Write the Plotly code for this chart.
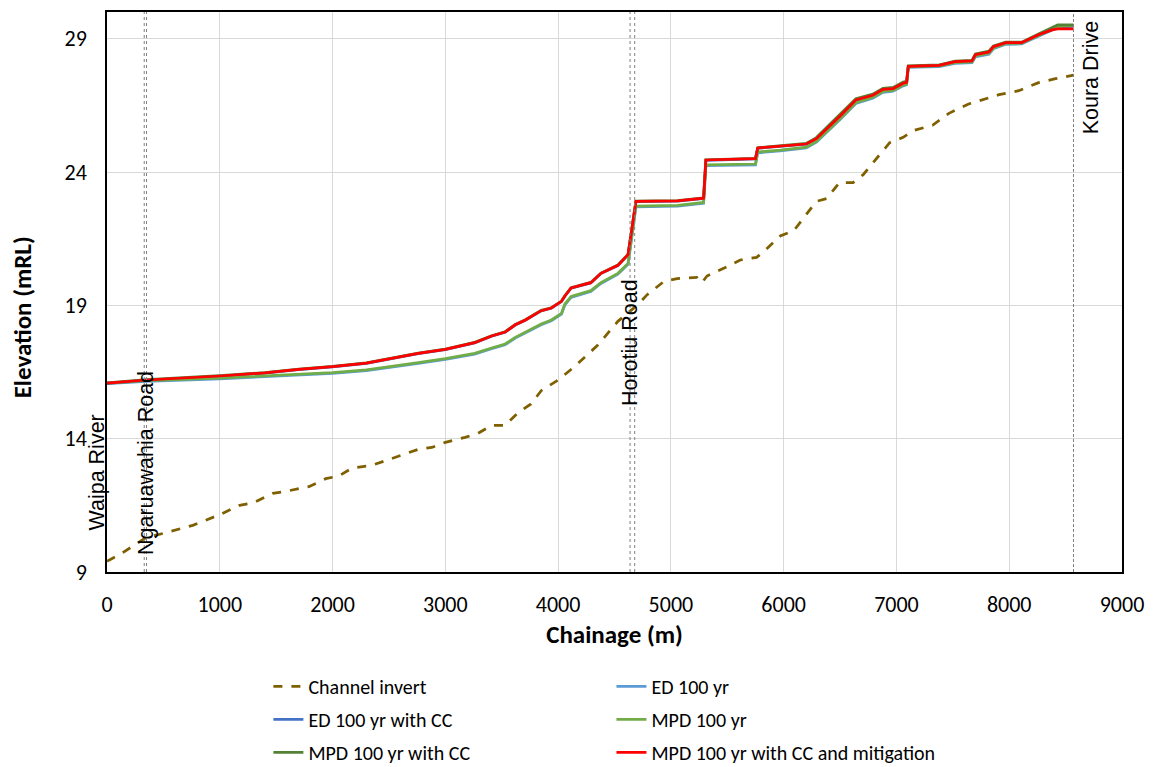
import plotly.graph_objects as go

# ---------------- data ----------------
invert_x = [0, 130, 350, 500, 760, 1000, 1175, 1300, 1470, 1555, 1790, 1940, 2055, 2175, 2350,
            2590, 2760, 2880, 3000, 3175, 3290, 3410, 3530, 3645, 3760, 3850, 4000, 4145, 4350,
            4530, 4700, 4790, 4940, 5055, 5230, 5275, 5320, 5525, 5615, 5760, 5820, 5970, 6090,
            6290, 6380, 6495, 6615, 6705, 6940, 7060, 7145, 7320, 7465, 7640, 7910, 8085, 8260,
            8410, 8570]
invert_y = [9.4, 9.7, 10.3, 10.45, 10.75, 11.15, 11.5, 11.6, 11.95, 12.0, 12.2, 12.5, 12.6, 12.9, 13.0,
            13.35, 13.6, 13.67, 13.86, 14.05, 14.2, 14.5, 14.5, 14.97, 15.3, 15.8, 16.2, 16.7, 17.5,
            18.4, 19.0, 19.4, 19.9, 20.0, 20.05, 19.85, 20.1, 20.5, 20.7, 20.8, 21.0, 21.6, 21.8,
            22.9, 23.0, 23.6, 23.6, 23.9, 25.1, 25.3, 25.55, 25.75, 26.2, 26.55, 26.9, 27.05, 27.35,
            27.5, 27.63]

chainage = [0, 350, 1000, 1400, 1700, 2000, 2300, 2520, 2760, 3000, 3260, 3410, 3530, 3620, 3710,
            3850, 3940, 4030, 4060, 4115, 4290, 4380, 4530, 4620, 4690, 5060, 5290, 5310, 5750, 5770,
            5970, 6200, 6290, 6440, 6500, 6640, 6790, 6880, 6970, 7060, 7090, 7105, 7380, 7520,
            7670, 7700, 7820, 7860, 7970, 8110, 8260, 8380, 8430, 8570]

ed_100 = [16.06, 16.15, 16.24, 16.32, 16.39, 16.45, 16.55, 16.67, 16.82, 16.97, 17.17, 17.37, 17.52,
          17.77, 17.97, 18.27, 18.42, 18.67, 19.02, 19.3, 19.52, 19.82, 20.17, 20.54, 22.69, 22.72,
          22.83, 24.24, 24.27, 24.72, 24.79, 24.9, 25.12, 25.72, 25.97, 26.57, 26.77, 26.99, 27.03,
          27.23, 27.27, 27.92, 27.95, 28.07, 28.1, 28.32, 28.42, 28.62, 28.79, 28.8, 29.1, 29.32,
          29.42, 29.47]

ed_100_cc = [16.07, 16.19, 16.34, 16.46, 16.59, 16.69, 16.82, 16.99, 17.19, 17.34, 17.59, 17.84, 17.99,
             18.26, 18.44, 18.79, 18.89, 19.14, 19.34, 19.64, 19.84, 20.19, 20.49, 20.89, 22.89, 22.91,
             23.01, 24.44, 24.49, 24.89, 24.96, 25.04, 25.24, 25.84, 26.09, 26.69, 26.87, 27.09, 27.12,
             27.32, 27.35, 27.95, 27.99, 28.13, 28.16, 28.39, 28.49, 28.69, 28.84, 28.84, 29.14, 29.34,
             29.42, 29.48]

mpd_100 = [16.08, 16.18, 16.27, 16.35, 16.42, 16.48, 16.58, 16.7, 16.85, 17.0, 17.2, 17.4, 17.55,
           17.8, 18.0, 18.3, 18.45, 18.7, 19.05, 19.33, 19.55, 19.85, 20.2, 20.57, 22.72, 22.75,
           22.86, 24.27, 24.3, 24.75, 24.82, 24.93, 25.15, 25.75, 26.0, 26.6, 26.8, 27.02, 27.06,
           27.26, 27.3, 27.95, 27.98, 28.1, 28.13, 28.35, 28.45, 28.65, 28.82, 28.83, 29.13, 29.35,
           29.45, 29.5]

mpd_100_cc = [16.09, 16.21, 16.36, 16.48, 16.61, 16.71, 16.84, 17.01, 17.21, 17.36, 17.61, 17.86, 18.01,
              18.28, 18.46, 18.81, 18.91, 19.16, 19.36, 19.66, 19.86, 20.21, 20.51, 20.91, 22.91, 22.93,
              23.03, 24.46, 24.51, 24.91, 24.98, 25.07, 25.29, 25.9, 26.15, 26.75, 26.92, 27.14, 27.17,
              27.37, 27.4, 27.98, 28.02, 28.16, 28.19, 28.43, 28.53, 28.73, 28.87, 28.87, 29.18, 29.4,
              29.52, 29.52]

mpd_100_cc_mit = [16.08, 16.2, 16.35, 16.47, 16.6, 16.7, 16.83, 17.0, 17.2, 17.35, 17.6, 17.85, 18.0,
                  18.27, 18.45, 18.8, 18.9, 19.15, 19.35, 19.65, 19.85, 20.2, 20.5, 20.9, 22.9, 22.92,
                  23.02, 24.45, 24.5, 24.9, 24.97, 25.05, 25.25, 25.85, 26.1, 26.7, 26.88, 27.1, 27.13,
                  27.33, 27.36, 27.96, 28.0, 28.14, 28.17, 28.4, 28.5, 28.7, 28.85, 28.85, 29.15, 29.33,
                  29.37, 29.37]

# structure markers (vertical reference lines) and labels
struct_line_x = [330, 350, 4638, 4679, 8570]
struct_line_dash = ["dot", "dot", "dot", "dot", "3px,2px"]
label_text = ["Waipa River", "Ngaruawahia Road", "Horotiu Road", "Koura Drive"]
label_x = [0, 340, 4637, 8725]
label_y = [12.73, 13.1, 17.62, 27.55]
label_shift = [-10, 0, 0, 0]
label_size = [21.5, 21.5, 21.5, 21.5]

x_ticks = [0, 1000, 2000, 3000, 4000, 5000, 6000, 7000, 8000, 9000]
y_ticks = [9, 14, 19, 24, 29]

# ---------------- figure ----------------
FONT = "Calibri, Carlito, Lato, sans-serif"
fig = go.Figure()

series = [
    ("Channel invert", invert_x, invert_y, "#7F6000", "dash", "legend", "a"),
    ("ED 100 yr", chainage, ed_100, "#5B9BD5", "solid", "legend2", "b"),
    ("ED 100 yr with CC", chainage, ed_100_cc, "#4472C4", "solid", "legend", "c"),
    ("MPD 100 yr", chainage, mpd_100, "#70AD47", "solid", "legend2", "d"),
    ("MPD 100 yr with CC", chainage, mpd_100_cc, "#548235", "solid", "legend", "e"),
    ("MPD 100 yr with CC and mitigation", chainage, mpd_100_cc_mit, "#FF0000", "solid", "legend2", "f"),
]
for name, xs, ys, col, dash, leg, grp in series:
    fig.add_trace(go.Scatter(
        x=xs, y=ys, mode="lines", name=name,
        line=dict(color=col, width=2.75, dash=dash),
        legend=leg, legendgroup=grp,
    ))

for xv, dsh in zip(struct_line_x, struct_line_dash):
    fig.add_shape(type="line", x0=xv, x1=xv, y0=0, y1=1, xref="x", yref="paper",
                  line=dict(color="#808080", width=1, dash=dsh), layer="above")

for t, xv, yv, sh, sz in zip(label_text, label_x, label_y, label_shift, label_size):
    fig.add_annotation(x=xv, y=yv, xref="x", yref="y", text=t, showarrow=False,
                       textangle=-90, xshift=sh,
                       font=dict(family="Liberation Sans, Arial", size=sz, color="#000000"),
                       xanchor="center", yanchor="middle")

# y-axis title (placed as in the reference, slightly below the plot centre)
fig.add_annotation(x=-0.0833, y=0.4555, xref="paper", yref="paper", text="<b>Elevation (mRL)</b>",
                   showarrow=False, textangle=-90, xanchor="center", yanchor="middle",
                   font=dict(family=FONT, size=25, color="#000000"))

fig.update_layout(
    width=1154, height=767,
    margin=dict(l=107, r=27, t=10, b=195),
    paper_bgcolor="white", plot_bgcolor="white",
    font=dict(family=FONT, size=20, color="#000000"),
    showlegend=True,
    legend=dict(x=0.159, y=0.1304, xref="paper", yref="container", xanchor="left", yanchor="top",
                orientation="v", font=dict(family=FONT, size=20), tracegroupgap=4,
                bgcolor="rgba(0,0,0,0)"),
    legend2=dict(x=0.497, y=0.1304, xref="paper", yref="container", xanchor="left", yanchor="top",
                 orientation="v", font=dict(family=FONT, size=20), tracegroupgap=4,
                 bgcolor="rgba(0,0,0,0)"),
)
fig.update_xaxes(
    range=[0, 9000], tickvals=x_ticks, ticktext=[str(v) for v in x_ticks],
    showgrid=True, gridcolor="#D9D9D9", gridwidth=1,
    showline=True, linecolor="#000000", linewidth=1.5, mirror=True,
    ticks="", zeroline=False, ticklabelstandoff=12,
    title=dict(text="<b>Chainage (m)</b>", font=dict(family=FONT, size=25), standoff=8),
    tickfont=dict(family=FONT, size=22),
)
fig.update_yaxes(
    range=[9, 30], tickvals=y_ticks, ticktext=[str(v) for v in y_ticks],
    showgrid=True, gridcolor="#D9D9D9", gridwidth=1,
    showline=True, linecolor="#000000", linewidth=1.5, mirror=True,
    ticks="", zeroline=False, ticklabelstandoff=14,
    tickfont=dict(family=FONT, size=22),
)

fig.write_html("out.html")
